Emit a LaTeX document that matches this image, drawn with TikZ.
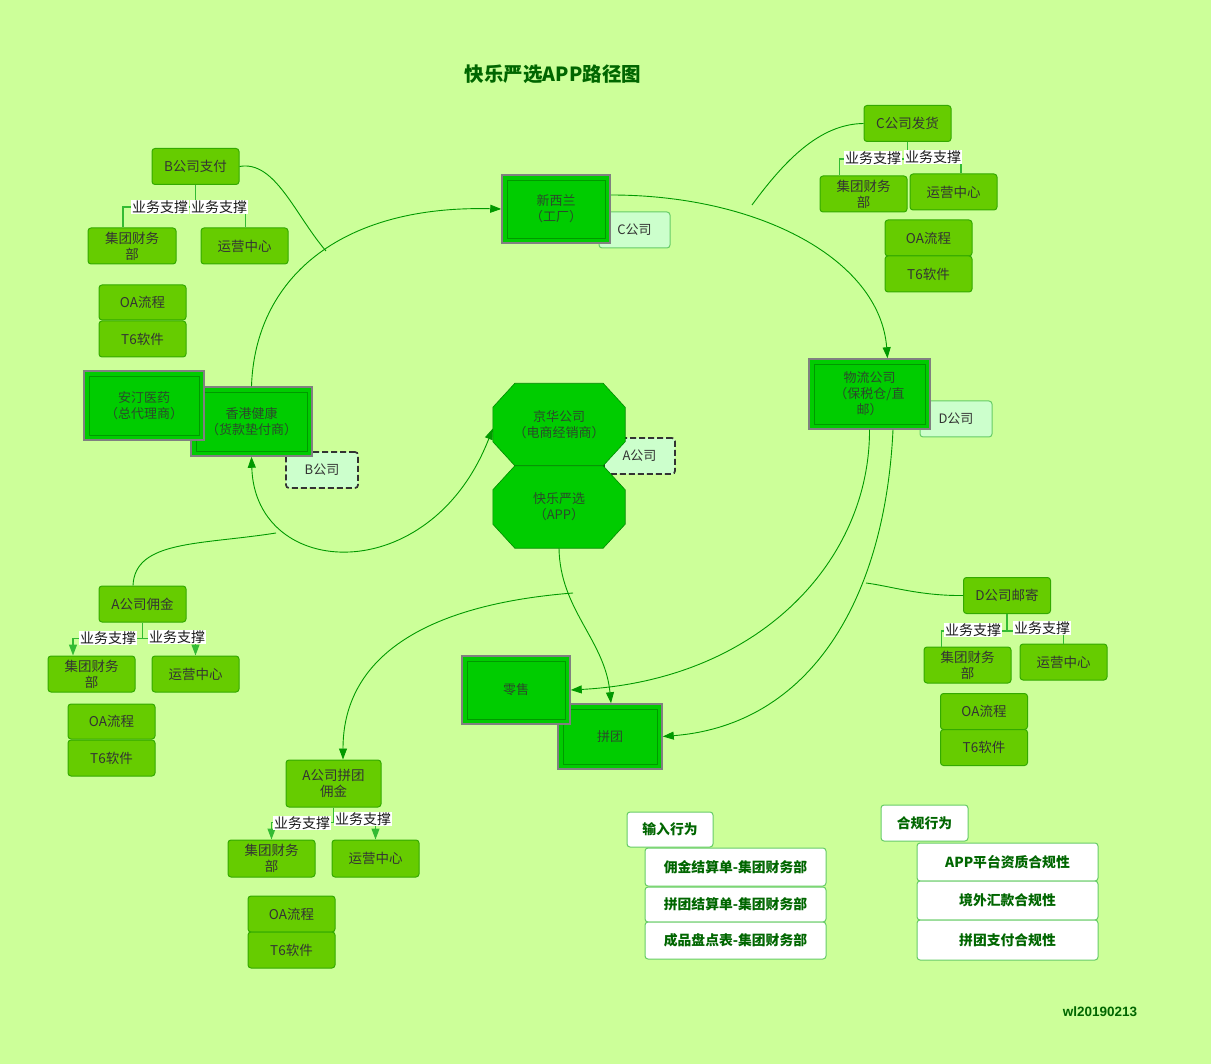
\documentclass[tikz,border=0pt]{standalone}
\usepackage{fontspec}
\setmainfont{Noto Sans CJK SC}
\newfontfamily\sigfont{Liberation Sans}
\usetikzlibrary{arrows.meta}
\definecolor{bgc}{HTML}{CCFF99}
\definecolor{bigfill}{HTML}{00CC00}
\definecolor{midfill}{HTML}{66CC00}
\definecolor{midline}{HTML}{33AA00}
\definecolor{tagfill}{HTML}{CCFFCC}
\definecolor{tagline}{HTML}{66CC66}
\definecolor{linkc}{HTML}{009900}
\definecolor{treec}{HTML}{33BB33}
\definecolor{dkgreen}{HTML}{006600}
\definecolor{boxtext}{HTML}{2B4A2B}
\definecolor{midtext}{HTML}{333333}
\pgfdeclarelayer{bgl}
\pgfdeclarelayer{octl}
\pgfsetlayers{bgl,octl,main}
\tikzset{
  bigbox/.style={draw=gray, line width=1.5pt, fill=bigfill, text=boxtext, align=center,
    font=\fontsize{13}{16}\selectfont, inner sep=0pt,
    path picture={\draw[linkc, line width=0.8pt]
      ([shift={(5pt,-5pt)}]path picture bounding box.north west) rectangle
      ([shift={(-5pt,5pt)}]path picture bounding box.south east);}},
  octtext/.style={minimum width=132pt, minimum height=82pt, inner sep=0pt, text=boxtext,
    align=center, font=\fontsize{13}{16}\selectfont},
  octfill/.style={fill=bigfill, draw=linkc!90!black, line width=0.6pt},
  midbox/.style={draw=midline, line width=1pt, fill=midfill, rounded corners=3pt,
    text=midtext, align=center, font=\fontsize{13.5}{16}\selectfont,
    minimum width=87pt, minimum height=36pt, inner sep=1pt},
  whitebox/.style={draw=tagline, line width=1pt, fill=white, rounded corners=3pt,
    text=dkgreen, font=\bfseries\fontsize{13.8}{16}\selectfont,
    minimum width=181pt, minimum height=38pt, inner sep=1pt},
  tagbox/.style={draw=tagline, line width=1pt, fill=tagfill, rounded corners=3pt,
    text=midtext, font=\fontsize{13}{15}\selectfont,
    minimum width=71pt, minimum height=36pt, inner sep=1pt},
  dashtag/.style={tagbox, draw=midtext, line width=1.7pt, dash pattern=on 6pt off 3pt},
  lbl/.style={fill=white, inner sep=0.8pt, font=\fontsize{14}{15}\selectfont, text=black!90},
  link/.style={draw=linkc, line width=0.9pt},
  tree/.style={draw=treec, line width=1.3pt},
  arr/.style={-{Triangle[length=11pt,width=8pt]}},
}
\begin{document}
\begin{tikzpicture}[x=1pt,y=-1pt]
\begin{pgfonlayer}{bgl}
\fill[bgc] (0,0) rectangle (1211,1064);
\end{pgfonlayer}
\useasboundingbox (0,0) rectangle (1211,1064);

% title
\node[text=dkgreen, font=\bfseries\fontsize{19.5}{22}\selectfont] (title) at (553,74) {快乐严选APP路径图};

% tags (behind big boxes)
\node[tagbox] (tagc) at (634.5,230) {C公司};
\node[tagbox, minimum width=72pt] (tagd) at (956,419) {D公司};
\node[dashtag, minimum width=72pt] (tagb) at (322,470) {B公司};
\begin{pgfonlayer}{bgl}
\node[dashtag] (taga) at (639.5,456) {A公司};
\end{pgfonlayer}

% big boxes
\node[bigbox, minimum width=108pt, minimum height=68pt] (xinxilan) at (556,209) {新西兰\\（工厂）};
\node[bigbox, minimum width=121pt, minimum height=70pt] (wuliu) at (869.5,394) {物流公司\\（保税仓/直\\邮）};
\node[bigbox, minimum width=121pt, minimum height=69pt] (xianggang) at (251.5,421.5) {香港健康\\（货款垫付商）};
\node[bigbox, minimum width=120pt, minimum height=69pt] (anting) at (144,405.5) {安汀医药\\（总代理商）};
\node[bigbox, minimum width=104pt, minimum height=65pt] (pintuan) at (610,736.5) {拼团};
\node[bigbox, minimum width=108pt, minimum height=68pt] (lingshou) at (516,690) {零售};

% octagons
\node[octtext] (jinghua) at (559,424.5) {京华公司\\（电商经销商）};
\node[octtext] (kuaile) at (559,507) {快乐严选\\（APP）};
\begin{pgfonlayer}{octl}
\foreach \o in {jinghua,kuaile}{
  \path[octfill] ([xshift=22pt]\o.north west) -- ([xshift=-22pt]\o.north east)
    -- ([yshift=-24pt]\o.north east) -- ([yshift=24pt]\o.south east)
    -- ([xshift=-22pt]\o.south east) -- ([xshift=22pt]\o.south west)
    -- ([yshift=24pt]\o.south west) -- ([yshift=-24pt]\o.north west) -- cycle;
}
\end{pgfonlayer}

% B cluster
\node[midbox] (bpay) at (195.5,166.5) {B公司支付};
\node[midbox, minimum width=88pt] (bjt) at (132,246) {集团财务\\部};
\node[midbox] (byy) at (244.5,246) {运营中心};
\node[midbox, minimum height=35pt] (boa) at (142.5,302.5) {OA流程};
\node[midbox] (bt6) at (142.5,339) {T6软件};
% C cluster
\node[midbox] (cfh) at (907.5,123.5) {C公司发货};
\node[midbox] (cjt) at (863.5,194) {集团财务\\部};
\node[midbox] (cyy) at (953.5,192) {运营中心};
\node[midbox] (coa) at (928.5,238) {OA流程};
\node[midbox] (ct6) at (928.5,274) {T6软件};
% D cluster
\node[midbox] (dyj) at (1007,595.5) {D公司邮寄};
\node[midbox] (djt) at (967.5,665) {集团财务\\部};
\node[midbox] (dyy) at (1063.5,662) {运营中心};
\node[midbox] (doa) at (984,711.5) {OA流程};
\node[midbox] (dt6) at (984,747.5) {T6软件};
% A cluster 1
\node[midbox] (ayj) at (142.5,604) {A公司佣金};
\node[midbox] (a1jt) at (91.5,674) {集团财务\\部};
\node[midbox] (a1yy) at (195.5,674) {运营中心};
\node[midbox, minimum height=35pt] (a1oa) at (111.5,721.5) {OA流程};
\node[midbox] (a1t6) at (111.5,758) {T6软件};
% A cluster 2
\node[midbox, minimum width=95pt, minimum height=47pt] (apt) at (333.5,783.5) {A公司拼团\\佣金};
\node[midbox, minimum height=37pt] (a2jt) at (271.5,858.5) {集团财务\\部};
\node[midbox, minimum height=37pt] (a2yy) at (375.5,858.5) {运营中心};
\node[midbox] (a2oa) at (291.5,914) {OA流程};
\node[midbox] (a2t6) at (291.5,950) {T6软件};

% white boxes
\node[whitebox, minimum width=86pt, minimum height=35pt] (in0) at (670,829.5) {输入行为};
\node[whitebox] (in1) at (735.5,867) {佣金结算单-集团财务部};
\node[whitebox, minimum height=35pt] (in2) at (735.5,904.5) {拼团结算单-集团财务部};
\node[whitebox, minimum height=37pt] (in3) at (735.5,940.5) {成品盘点表-集团财务部};
\node[whitebox, minimum width=87pt, minimum height=36pt] (hg0) at (924.5,823) {合规行为};
\node[whitebox] (hg1) at (1007.5,862) {APP平台资质合规性};
\node[whitebox, minimum height=39pt] (hg2) at (1007.5,900.5) {境外汇款合规性};
\node[whitebox, minimum height=40pt] (hg3) at (1007.5,940) {拼团支付合规性};

% signature
\node[text=dkgreen, font=\sigfont\bfseries\fontsize{13.5}{15}\selectfont] (sig) at (1100,1012) {wl20190213};

% main connectors
\draw[link,arr] (xianggang.north) .. controls (255,280) and (338,205) .. (xinxilan.west);
\draw[link,arr] ([yshift=14pt]xinxilan.east) .. controls (760,195) and (880,260) .. ([xshift=18pt]wuliu.north);
\draw[link,arr] (wuliu.south) .. controls (870,560) and (760,680) .. (lingshou.east);
\draw[link,arr] ([xshift=23.5pt]wuliu.south) .. controls (885,600) and (810,725) .. (pintuan.east);
\draw[link,arr] (kuaile.south) .. controls (560,610) and (605,640) .. ([xshift=1pt]pintuan.north);
\coordinate (f6) at (573,593);
\draw[link,arr] (f6) .. controls (420,605) and (343,660) .. ([xshift=9.5pt]apt.north);
\draw[link,{Triangle[length=11pt,width=8pt]}-{Triangle[length=11pt,width=8pt]}]
  (xianggang.south) .. controls (255,580) and (430,590) .. ([yshift=-4pt]jinghua.west);
\coordinate (f8) at (326,251);
\draw[link] (bpay.east) .. controls (275,160) and (295,215) .. (f8);
\coordinate (f9) at (752,205);
\draw[link] (cfh.west) .. controls (820,124) and (785,160) .. (f9);
\coordinate (f10) at (866,583);
\draw[link] (dyj.west) .. controls (920,596) and (890,586) .. (f10);
\coordinate (f11) at (276,533);
\draw[link] ([xshift=-9.5pt]ayj.north) .. controls (135,540) and (200,545) .. (f11);

% tree connectors
\draw[tree] (bpay.south) -- ++(0,22) -| ([xshift=-9pt]bjt.north);
\draw[tree] (bpay.south) -- ++(0,22) -| ([xshift=1pt]byy.north);
\draw[tree] (cfh.south) -- ++(0,17) -| ([xshift=-24pt]cjt.north);
\draw[tree] (cfh.south) -- ++(0,17) -| ([xshift=7.5pt]cyy.north);
\draw[tree] (dyj.south) -- ++(0,17) -| ([xshift=-26pt]djt.north);
\draw[tree] (dyj.south) -- ++(0,17) -| (dyy.north);
\draw[tree] (ayj.south) -- ++(0,16);
\draw[tree,arr] ([yshift=-16pt]ayj.south) -| ([xshift=-18.5pt]a1jt.north);
\draw[tree,arr] ([yshift=-16pt]ayj.south) -| (a1yy.north);
\draw[tree] (apt.south) -- ++(0,15);
\draw[tree,arr] ([yshift=-15pt]apt.south) -| (a2jt.north);
\draw[tree,arr] ([yshift=-15pt]apt.south) -| (a2yy.north);

% labels
\node[lbl] (lb1) at (160,207) {业务支撑};
\node[lbl] (lb2) at (219,207) {业务支撑};
\node[lbl] (lc1) at (873,158) {业务支撑};
\node[lbl] (lc2) at (933,157) {业务支撑};
\node[lbl] (ld1) at (973,630) {业务支撑};
\node[lbl] (ld2) at (1042,628) {业务支撑};
\node[lbl] (la1) at (108,638) {业务支撑};
\node[lbl] (la2) at (177,637) {业务支撑};
\node[lbl] (la3) at (302,823) {业务支撑};
\node[lbl] (la4) at (363,819) {业务支撑};
\end{tikzpicture}
\end{document}
